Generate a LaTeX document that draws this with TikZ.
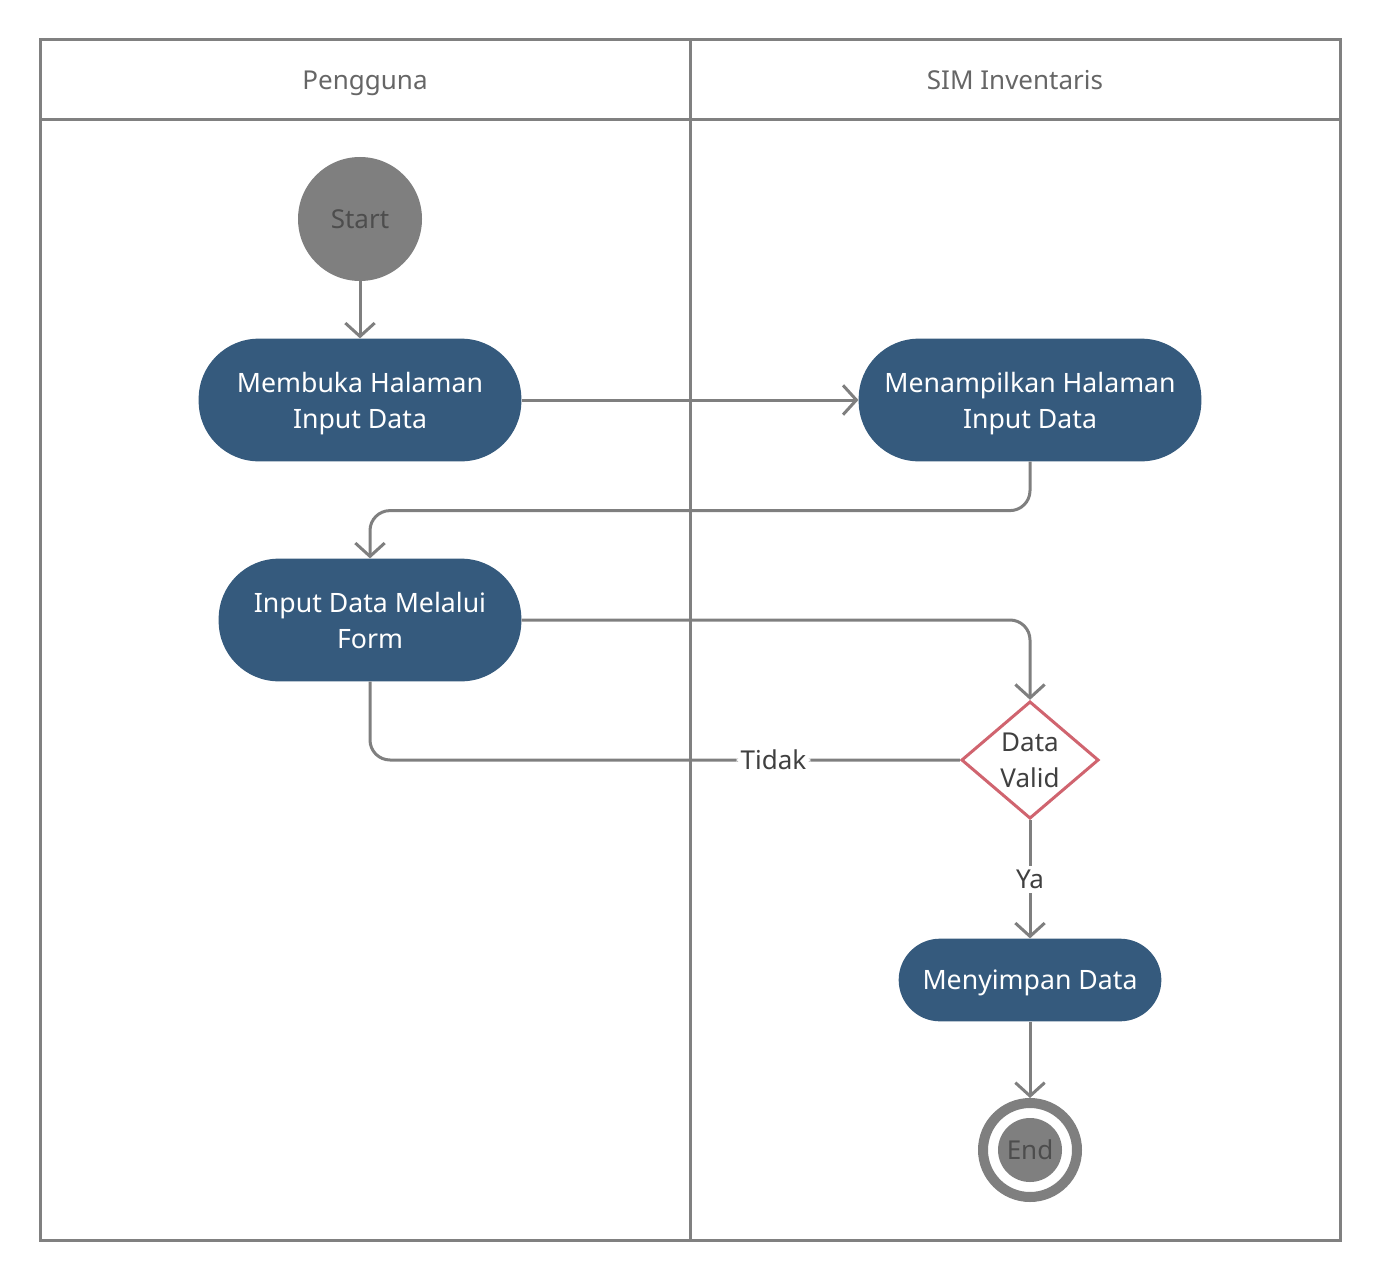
\documentclass[tikz,border=0pt]{standalone}
\usepackage{fontspec}
\setmainfont{Noto Sans}
\usetikzlibrary{arrows.meta,shapes.geometric}
\definecolor{framegray}{HTML}{808080}
\definecolor{conngray}{HTML}{7F7F7F}
\definecolor{nodeblue}{HTML}{355A7D}
\definecolor{headtext}{HTML}{666666}
\definecolor{darktext}{HTML}{404040}
\definecolor{starttext}{HTML}{4D4D4D}
\definecolor{diared}{HTML}{D0646F}
\tikzset{
  basefont/.style={font=\fontsize{19.5pt}{27pt}\selectfont, text depth=0pt},
  actfont/.style={font=\fontsize{20pt}{27pt}\selectfont, text depth=0pt},
  action/.style={actfont, rectangle, fill=nodeblue, text=white, align=center,
    minimum height=92pt, inner sep=0pt, rounded corners=45pt},
  conn/.style={draw=conngray, line width=2.25pt,
    -{Straight Barb[length=10pt,width=22pt,line width=2.25pt]}},
  plainconn/.style={draw=conngray, line width=2.25pt},
  lbl/.style={basefont, fill=white, text=darktext, inner sep=3pt},
  frame/.style={draw=framegray, line width=2.25pt},
}
\begin{document}
\begin{tikzpicture}[x=0.75pt,y=-0.75pt]
\useasboundingbox (0,0) rectangle (1380,1280);
% swimlanes
\draw[frame] (40,40) rectangle (1340,1240);
\draw[frame] (40,120) -- (1340,120);
\draw[frame] (690,40) -- (690,1240);
\node[basefont, text=headtext] (h1) at (365,80) {Pengguna};
\node[basefont, text=headtext] (h2) at (1015,80) {SIM Inventaris};
% nodes
\node[basefont, circle, fill=conngray, text=starttext, minimum size=93pt, inner sep=0pt] (start) at (360,219) {Start};
\node[action, minimum width=242pt] (membuka) at (360,400) {Membuka Halaman\\Input Data};
\node[action, minimum width=257pt] (menampil) at (1030,400) {Menampilkan Halaman\\Input Data};
\node[action, minimum width=227pt] (input) at (370,620) {Input Data Melalui\\Form};
\node[basefont, diamond, draw=diared, line width=2.25pt, fill=white, text=darktext, align=center,
  minimum width=103pt, minimum height=88pt, inner sep=0pt] (valid) at (1030,760) {Data\\Valid};
\node[action, minimum width=197pt, minimum height=62pt, rounded corners=31pt] (simpan) at (1030,980) {Menyimpan Data};
\node[circle, draw=conngray, fill=white, line width=7.5pt, minimum size=70.5pt, inner sep=0pt] (endn) at (1030,1150) {};
\node[basefont, circle, fill=conngray, text=starttext, minimum size=48pt, inner sep=0pt] (endin) at (1030,1150) {End};
% connectors
\draw[conn] (start) -- (membuka);
\draw[conn] (membuka) -- (menampil);
\draw[conn, rounded corners=15pt] (menampil.south) -- ++(0,49) -| (input.north);
\draw[conn, rounded corners=15pt] (input.east) -| (valid.north);
\draw[plainconn, rounded corners=15pt] (input.south) |- node[lbl, pos=0.842] {Tidak} (valid.west);
\draw[conn] (valid.south) -- node[lbl] {Ya} (simpan.north);
\draw[conn] (simpan.south) -- (endn.north);
\end{tikzpicture}
\end{document}
